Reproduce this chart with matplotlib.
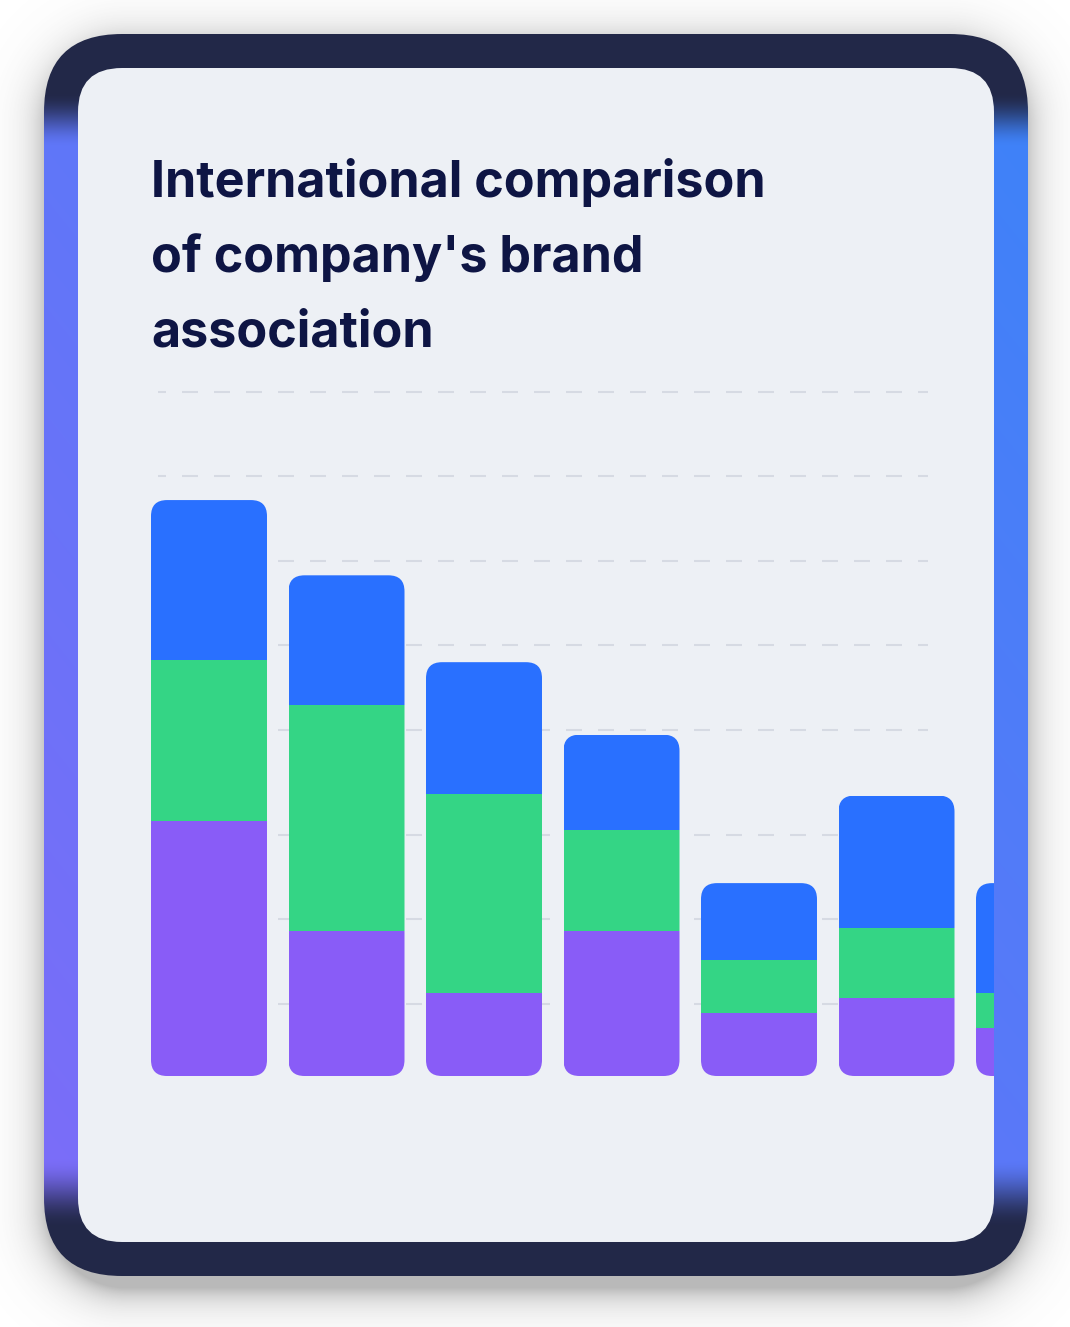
import numpy as np
import matplotlib
matplotlib.use("Agg")
import matplotlib.pyplot as plt
from matplotlib.patches import FancyBboxPatch
from matplotlib.transforms import IdentityTransform
from matplotlib.colors import to_rgb

plt.rcParams['lines.scale_dashes'] = False

# ---------------- data ----------------
title_lines = ["International comparison", "of company's brand", "association"]
categories = ["A", "B", "C", "D", "E", "F", "G"]
purple_vals = [37.3, 21.2, 12.1, 21.2, 9.2, 11.4, 7.0]
green_vals = [23.5, 33.0, 29.1, 14.8, 7.7, 10.2, 5.1]
blue_vals = [23.4, 19.0, 19.3, 13.9, 11.3, 19.4, 16.1]
grid_vals = [100.0, 87.7, 75.3, 63.0, 50.6, 35.2, 23.0, 10.5]

# ---------------- styles ----------------
W, H = 1070, 1327
DPI = 100
C_PURPLE = "#895cf7"
C_GREEN = "#34d585"
C_BLUE = "#2970ff"
C_PANEL = "#edf0f5"
C_DARK = "#222848"
C_TITLE = "#0e1544"
C_GRID = "#d6dae3"

fig = plt.figure(figsize=(W / DPI, H / DPI), dpi=DPI)
fig.patch.set_facecolor("white")

# background axes in pixel coordinates
bg = fig.add_axes([0, 0, 1, 1])
bg.set_xlim(0, W)
bg.set_ylim(H, 0)
bg.axis("off")

# outer frame geometry
ox0, oy0, ox1, oy1, orad = 44, 34, 1028, 1276, 78
ix0, iy0, ix1, iy1, irad = 78, 68, 994, 1242, 44


def rrect_sdf(X, Y, x0, y0, x1, y1, r):
    cx, cy = (x0 + x1) / 2, (y0 + y1) / 2
    hx, hy = (x1 - x0) / 2 - r, (y1 - y0) / 2 - r
    qx = np.abs(X - cx) - hx
    qy = np.abs(Y - cy) - hy
    outside = np.hypot(np.maximum(qx, 0), np.maximum(qy, 0))
    inside = np.minimum(np.maximum(qx, qy), 0)
    return outside + inside - r


# shadow
X, Y = np.meshgrid(np.arange(W) + 0.5, np.arange(H) + 0.5)
d = rrect_sdf(X, Y - 12, ox0 + 4, oy0, ox1 - 4, oy1, orad)
alpha = 0.42 * np.exp(-np.clip(d, 0, None) / 17.0)
alpha[d < 0] = 0.42
shadow = np.zeros((H, W, 4))
shadow[..., :3] = 0.35
shadow[..., 3] = alpha
bg.imshow(shadow, extent=(0, W, H, 0), origin="upper", zorder=0, interpolation="bilinear")

# gradient frame
fx = np.arange(ox0, ox1) + 0.5
fy = np.arange(oy0, oy1) + 0.5
FX, FY = np.meshgrid(fx, fy)
t = ((ox1 - FX) / (ox1 - ox0) + (FY - oy0) / (oy1 - oy0)) / 2
c_tr = np.array(to_rgb("#3c83f9"))
c_bl = np.array(to_rgb("#7e6cf8"))
base = c_tr[None, None, :] * (1 - t[..., None]) + c_bl[None, None, :] * t[..., None]


def smooth(e0, e1, v):
    s = np.clip((v - e0) / (e1 - e0), 0, 1)
    return s * s * (3 - 2 * s)


dark_amt = np.maximum(1 - smooth(92, 148, FY), smooth(1158, 1228, FY))
cd = np.array(to_rgb(C_DARK))
img = base * (1 - dark_amt[..., None]) + cd[None, None, :] * dark_amt[..., None]
frame_im = bg.imshow(img, extent=(ox0, ox1, oy1, oy0), origin="upper", zorder=1,
                     interpolation="bilinear")
outer = FancyBboxPatch((ox0, oy0), ox1 - ox0, oy1 - oy0,
                       boxstyle=f"round,pad=0,rounding_size={orad}",
                       facecolor="none", edgecolor="none", transform=bg.transData)
bg.add_patch(outer)
frame_im.set_clip_path(outer)

inner = FancyBboxPatch((ix0, iy0), ix1 - ix0, iy1 - iy0,
                       boxstyle=f"round,pad=0,rounding_size={irad}",
                       facecolor=C_PANEL, edgecolor="none", zorder=2,
                       transform=bg.transData)
bg.add_patch(inner)

# title
for i, line in enumerate(title_lines):
    fig.text(151 / W, 1 - (197 + 75 * i) / H, line, fontsize=36.2,
             fontweight="bold", family=["Inter", "DejaVu Sans"],
             color=C_TITLE, ha="left", va="baseline")

# ---------------- bar chart axes ----------------
px_per_unit = 6.84
base_px = 1076
bar_step = 137.5
first_center = 209
bar_w_px = 116
ax_top, ax_bot = 380, iy1
ax_left, ax_right = ix0, ix1

ax = fig.add_axes([ax_left / W, 1 - ax_bot / H, (ax_right - ax_left) / W, (ax_bot - ax_top) / H])
ax.set_facecolor("none")
ax.set_xlim((ax_left - first_center) / bar_step, (ax_right - first_center) / bar_step)
ax.set_ylim(-(ax_bot - base_px) / px_per_unit, (base_px - ax_top) / px_per_unit)
ax.axis("off")

x = np.arange(len(categories))
gx0 = (158 - first_center) / bar_step
gx1 = (928 - first_center) / bar_step
ax.hlines(grid_vals, gx0, gx1, colors=C_GRID, linewidth=1.5,
          linestyles=[(5.76, (11.52, 11.52))], zorder=1)

bw = bar_w_px / bar_step
purple = np.array(purple_vals)
green = np.array(green_vals)
blue = np.array(blue_vals)
b1 = ax.bar(x, purple, width=bw, color=C_PURPLE, zorder=3, linewidth=0)
b2 = ax.bar(x, green, width=bw, bottom=purple, color=C_GREEN, zorder=3, linewidth=0)
b3 = ax.bar(x, blue, width=bw, bottom=purple + green, color=C_BLUE, zorder=3, linewidth=0)

totals = purple + green + blue
for i in range(len(categories)):
    (dx0, dy0) = ax.transData.transform((x[i] - bw / 2, 0))
    (dx1, dy1) = ax.transData.transform((x[i] + bw / 2, totals[i]))
    clip = FancyBboxPatch((dx0, dy0), dx1 - dx0, dy1 - dy0,
                          boxstyle="round,pad=0,rounding_size=16",
                          transform=IdentityTransform(), facecolor="none", edgecolor="none")
    for cont in (b1, b2, b3):
        cont[i].set_clip_path(clip)

fig.savefig("out.png", dpi=DPI, facecolor="white")
